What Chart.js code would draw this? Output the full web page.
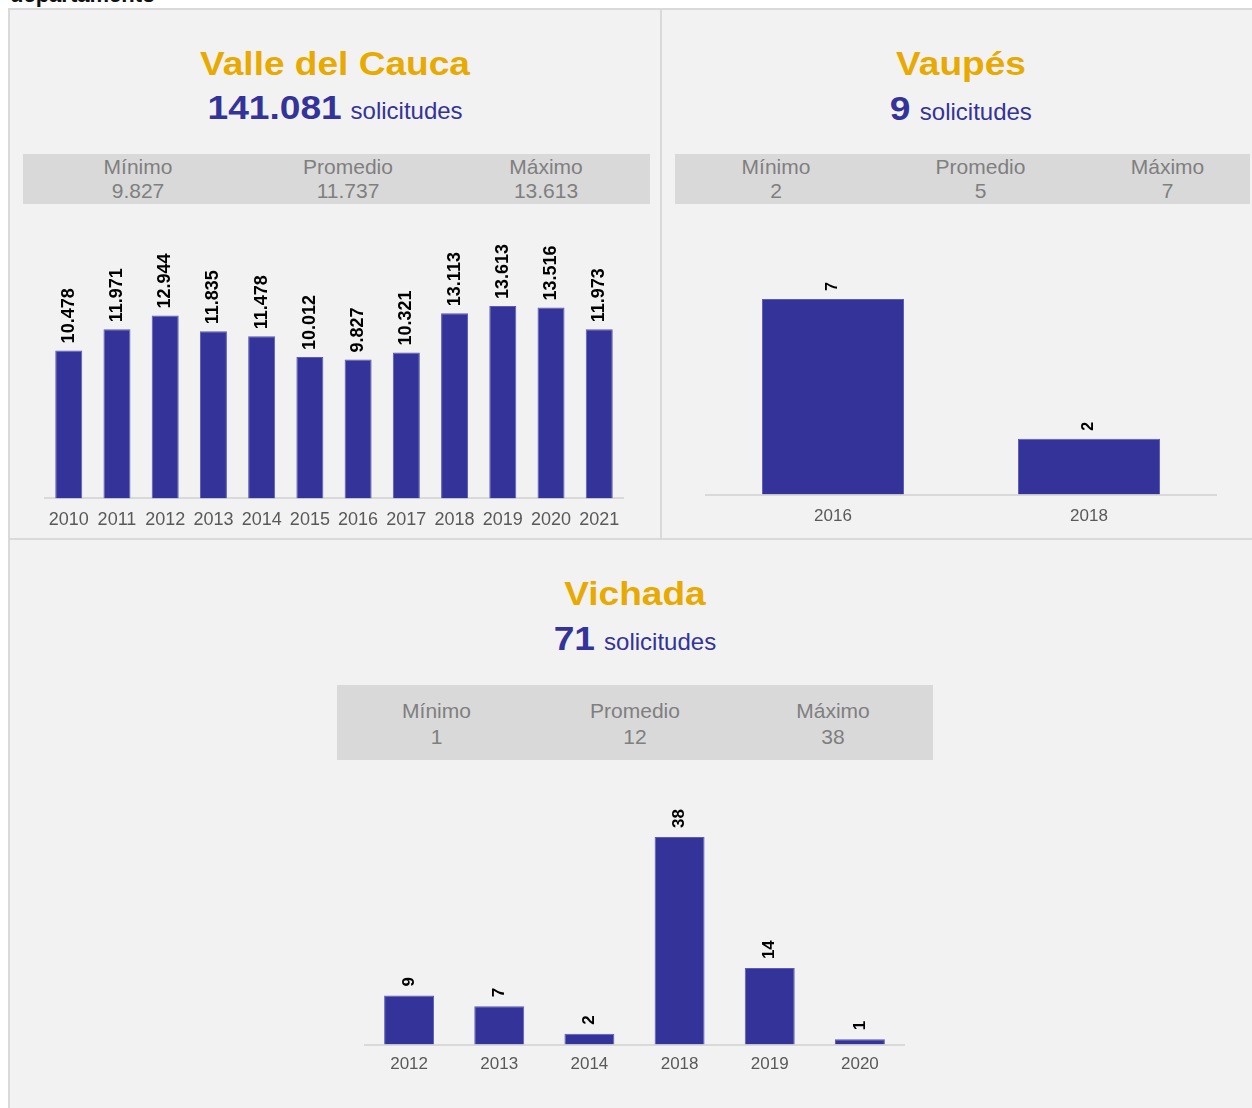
<!DOCTYPE html>
<html>
<head>
<meta charset="utf-8">
<script src="https://cdn.jsdelivr.net/npm/chart.js@4.4.0/dist/chart.umd.min.js"></script>
<style>
  html, body { margin:0; padding:0; background:#ffffff; }
  body { width:1252px; height:1108px; position:relative; overflow:hidden; font-family:"Liberation Sans", Arial, sans-serif; }
  .frame { position:absolute; left:8px; top:8px; width:1260px; height:1120px; background:#f2f2f2; border-left:2px solid #d9d9d9; border-top:2px solid #d9d9d9; box-sizing:border-box; }
  .vdiv { position:absolute; left:660px; top:8px; width:2px; height:532px; background:#d9d9d9; }
  .hdiv { position:absolute; left:8px; top:538px; width:1260px; height:2px; background:#d9d9d9; }
  .title { position:absolute; width:600px; text-align:center; font-weight:bold; font-size:32.5px; line-height:40px; color:#e8aa00; white-space:nowrap; transform:scaleX(1.14); transform-origin:50% 50%; }
  .total { position:absolute; width:600px; text-align:center; line-height:40px; color:#333399; white-space:nowrap; font-size:24px; }
  .total b { display:inline-block; font-size:33px; transform:scaleX(1.125); transform-origin:50% 50%; }
  .total span { font-size:24px; }
  .box { position:absolute; background:#d9d9d9; }
  .stat { position:absolute; width:200px; text-align:center; font-size:21px; color:#7f7f7f; white-space:nowrap; }
  canvas { position:absolute; }
  .head { position:absolute; left:10px; top:-16px; font-weight:bold; font-size:22px; line-height:22px; color:#111; }
</style>
</head>
<body>
<div class="head">departamento</div>
<div class="frame"></div>
<div class="vdiv"></div>
<div class="hdiv"></div>

<div id="t1" class="title" style="left:35px; top:44px;"></div>
<div id="n1" class="total" style="left:35px; top:88px;"></div>
<div class="box" style="left:23px; top:154px; width:627px; height:50px;"></div>

<div id="t2" class="title" style="left:661px; top:44px;"></div>
<div id="n2" class="total" style="left:661px; top:89px;"></div>
<div class="box" style="left:675px; top:154px; width:575px; height:50px;"></div>

<div id="t3" class="title" style="left:335px; top:574px;"></div>
<div id="n3" class="total" style="left:335px; top:619px;"></div>
<div class="box" style="left:337px; top:685px; width:596px; height:75px;"></div>

<canvas id="c1" width="592" height="312" style="left:38px; top:230px; width:592px; height:312px;"></canvas>
<canvas id="c2" width="512" height="279" style="left:705px; top:260px; width:512px; height:279px;"></canvas>
<canvas id="c3" width="541" height="295" style="left:364px; top:790px; width:541px; height:295px;"></canvas>

<script>
// ---- Data ----
const statLabels = ['Mínimo', 'Promedio', 'Máximo'];

const valleName = 'Valle del Cauca';
const valleTotal = '141.081';
const valleStats = ['9.827', '11.737', '13.613'];
const valleYears = ['2010','2011','2012','2013','2014','2015','2016','2017','2018','2019','2020','2021'];
const valleValues = [10478, 11971, 12944, 11835, 11478, 10012, 9827, 10321, 13113, 13613, 13516, 11973];

const vaupesName = 'Vaupés';
const vaupesTotal = '9';
const vaupesStats = ['2', '5', '7'];
const vaupesYears = ['2016', '2018'];
const vaupesValues = [7, 2];

const vichadaName = 'Vichada';
const vichadaTotal = '71';
const vichadaStats = ['1', '12', '38'];
const vichadaYears = ['2012','2013','2014','2018','2019','2020'];
const vichadaValues = [9, 7, 2, 38, 14, 1];

// ---- Text blocks ----
function fmt(v) { return String(v).replace(/\B(?=(\d{3})+(?!\d))/g, '.'); }

function setHeader(tId, nId, name, total) {
  document.getElementById(tId).textContent = name;
  const n = document.getElementById(nId);
  n.innerHTML = '<b>' + total + '</b><span>solicitudes</span>';
  const b = n.querySelector('b');
  const w = b.getBoundingClientRect().width / 1.125;
  const extra = w * 0.125 / 2;
  b.style.marginLeft = extra + 'px';
  b.style.marginRight = (extra + 9) + 'px';
}
setHeader('t1', 'n1', valleName, valleTotal);
setHeader('t2', 'n2', vaupesName, vaupesTotal);
setHeader('t3', 'n3', vichadaName, vichadaTotal);

function addStats(centers, top, lh, values) {
  centers.forEach((cx, i) => {
    const d = document.createElement('div');
    d.className = 'stat';
    d.style.left = (cx - 100) + 'px';
    d.style.top = top + 'px';
    d.style.lineHeight = lh + 'px';
    d.innerHTML = statLabels[i] + '<br>' + values[i];
    document.body.appendChild(d);
  });
}
addStats([138, 348, 546], 155, 24, valleStats);
addStats([776, 980.5, 1167.5], 155, 24, vaupesStats);
addStats([436.5, 635, 833], 698, 25.5, vichadaStats);

// ---- Charts ----
const rotLabels = {
  id: 'rotLabels',
  afterDatasetsDraw(chart, args, opts) {
    const ctx = chart.ctx;
    const meta = chart.getDatasetMeta(0);
    const data = chart.data.datasets[0].data;
    ctx.save();
    ctx.font = 'bold ' + opts.size + 'px "Liberation Sans", Arial, sans-serif';
    ctx.fillStyle = '#000000';
    ctx.textAlign = 'left';
    ctx.textBaseline = 'middle';
    meta.data.forEach((bar, i) => {
      ctx.save();
      ctx.translate(bar.x, bar.y - opts.gap);
      ctx.rotate(-Math.PI / 2);
      ctx.fillText(fmt(data[i]), 0, 0);
      ctx.restore();
    });
    ctx.restore();
  }
};

function makeChart(id, labels, values, yMax, barPct, tickSize, tickPad, lblSize, lblGap) {
  return new Chart(document.getElementById(id), {
    type: 'bar',
    data: {
      labels: labels,
      datasets: [{
        data: values,
        backgroundColor: '#333399',
        borderColor: '#5a5ab8',
        borderWidth: 1,
        categoryPercentage: 1,
        barPercentage: barPct
      }]
    },
    options: {
      responsive: false,
      animation: false,
      devicePixelRatio: 1,
      layout: { padding: 0 },
      plugins: {
        legend: { display: false },
        tooltip: { enabled: false },
        rotLabels: { size: lblSize, gap: lblGap }
      },
      scales: {
        y: { display: false, min: 0, max: yMax },
        x: {
          grid: { display: false, drawTicks: false, tickLength: 0 },
          border: { display: true, color: '#d9d9d9', width: 2 },
          ticks: {
            color: '#595959',
            font: { family: '"Liberation Sans", Arial, sans-serif', size: tickSize },
            padding: tickPad,
            autoSkip: false,
            maxRotation: 0
          }
        }
      }
    },
    plugins: [rotLabels]
  });
}

makeChart('c1', valleYears, valleValues, 19000, 0.56, 18, 11, 18, 7);
makeChart('c2', vaupesYears, vaupesValues, 8.4, 0.555, 17, 12, 16, 8);
makeChart('c3', vichadaYears, vichadaValues, 46.6, 0.554, 17, 10, 17, 9);
</script>
</body>
</html>
